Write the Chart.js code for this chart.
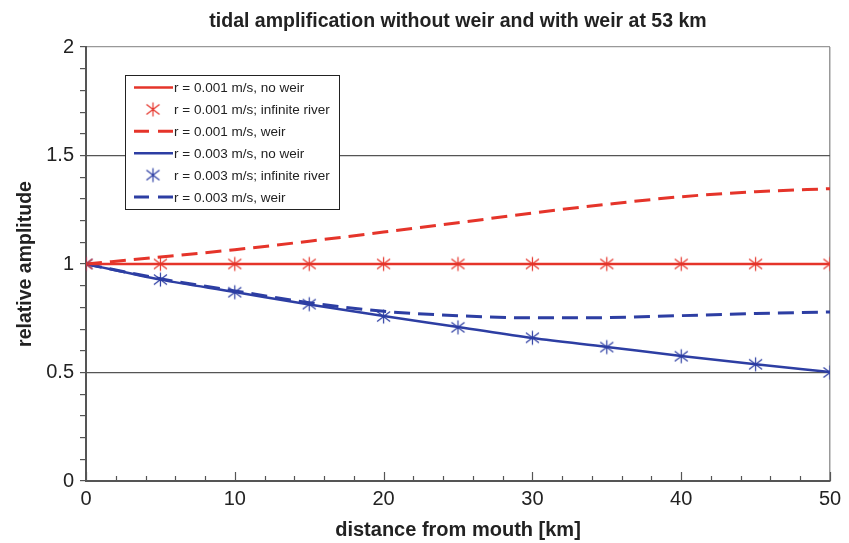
<!DOCTYPE html>
<html>
<head>
<meta charset="utf-8">
<script src="https://cdn.jsdelivr.net/npm/chart.js@4/dist/chart.umd.min.js"></script>
<style>
  html, body { margin: 0; padding: 0; background: #ffffff; }
  #wrap { width: 849px; height: 543px; position: relative; }
</style>
</head>
<body>
<div id="wrap"><canvas id="c" width="849" height="543"></canvas></div>
<script>
// ---- data ----
const distanceKm = [0, 5, 10, 15, 20, 25, 30, 35, 40, 45, 50];
const r001NoWeir = [1.0, 1.0, 1.0, 1.0, 1.0, 1.0, 1.0, 1.0, 1.0, 1.0, 1.0];
const r001Infinite = [1.0, 1.0, 1.0, 1.0, 1.0, 1.0, 1.0, 1.0, 1.0, 1.0, 1.0];
const r001Weir = [1.0, 1.032, 1.066, 1.105, 1.147, 1.19, 1.235, 1.275, 1.31, 1.333, 1.347];
const r003NoWeir = [1.0, 0.928, 0.871, 0.813, 0.76, 0.71, 0.659, 0.618, 0.576, 0.538, 0.502];
const r003Infinite = [1.0, 0.928, 0.87, 0.815, 0.758, 0.708, 0.66, 0.617, 0.575, 0.538, 0.5];
const r003Weir = [1.0, 0.932, 0.876, 0.822, 0.782, 0.762, 0.752, 0.753, 0.762, 0.772, 0.779];
const seriesLabels = [
  'r = 0.001 m/s, no weir',
  'r = 0.001 m/s; infinite river',
  'r = 0.001 m/s, weir',
  'r = 0.003 m/s, no weir',
  'r = 0.003 m/s; infinite river',
  'r = 0.003 m/s, weir'
];
const yMajorLabels = ['0', '0.5', '1', '1.5', '2'];
const xMajorLabels = ['0', '10', '20', '30', '40', '50'];

const RED = 'rgb(229,52,42)';
const BLUE = 'rgb(45,62,163)';
const FONT = '"Liberation Sans", Arial, sans-serif';

function starImage(color) {
  const c = document.createElement('canvas');
  c.width = 17; c.height = 17;
  const g = c.getContext('2d');
  g.strokeStyle = color;
  g.lineWidth = 1.2;
  g.beginPath();
  g.moveTo(8.5, 1.5); g.lineTo(8.5, 15.5);
  g.moveTo(2.0, 3.5); g.lineTo(15.0, 13.5);
  g.moveTo(2.0, 13.5); g.lineTo(15.0, 3.5);
  g.stroke();
  return c;
}
const redStar = starImage(RED);
const blueStar = starImage(BLUE);

const toXY = arr => arr.map((v, i) => ({ x: distanceKm[i], y: v }));

const datasets = [
  { label: seriesLabels[0], data: toXY(r001NoWeir), borderColor: RED, backgroundColor: RED,
    borderWidth: 2.5, pointRadius: 0, cubicInterpolationMode: 'monotone', order: 2 },
  { label: seriesLabels[1], data: toXY(r001Infinite), borderColor: RED, backgroundColor: RED,
    showLine: false, pointStyle: redStar, pointRadius: 8, order: 0 },
  { label: seriesLabels[2], data: toXY(r001Weir), borderColor: RED, backgroundColor: RED,
    borderWidth: 3, borderDash: [16, 8], pointRadius: 0, cubicInterpolationMode: 'monotone', order: 3 },
  { label: seriesLabels[3], data: toXY(r003NoWeir), borderColor: BLUE, backgroundColor: BLUE,
    borderWidth: 2.5, pointRadius: 0, cubicInterpolationMode: 'monotone', order: 2 },
  { label: seriesLabels[4], data: toXY(r003Infinite), borderColor: BLUE, backgroundColor: BLUE,
    showLine: false, pointStyle: blueStar, pointRadius: 8, order: 0 },
  { label: seriesLabels[5], data: toXY(r003Weir), borderColor: BLUE, backgroundColor: BLUE,
    borderWidth: 3, borderDash: [16, 8], pointRadius: 0, cubicInterpolationMode: 'monotone', order: 3 }
];

const isMult = (v, m) => Math.abs(v / m - Math.round(v / m)) < 1e-6;

// inside-pointing x tick marks + legend box
const decorPlugin = {
  id: 'decor',
  afterDraw(chart) {
    const ctx = chart.ctx;
    const xs = chart.scales.x;
    const area = chart.chartArea;
    ctx.save();
    ctx.strokeStyle = '#555';
    ctx.lineWidth = 1.2;
    for (let v = 0; v <= 50 + 1e-9; v += 2) {
      const px = Math.round(xs.getPixelForValue(v)) + 0.5;
      const len = isMult(v, 10) ? 9 : 5;
      ctx.beginPath();
      ctx.moveTo(px, area.bottom);
      ctx.lineTo(px, area.bottom - len);
      ctx.stroke();
    }
    // legend
    const bx = area.left + 39, by = area.top + 28, bw = 214, bh = 134;
    ctx.fillStyle = '#fff';
    ctx.fillRect(bx, by, bw, bh);
    ctx.strokeStyle = '#222';
    ctx.lineWidth = 1;
    ctx.strokeRect(bx + 0.5, by + 0.5, bw, bh);
    ctx.font = '13.5px ' + FONT;
    ctx.textBaseline = 'middle';
    ctx.textAlign = 'left';
    chart.data.datasets.forEach((ds, i) => {
      const y = by + 12.5 + i * 21.9;
      if (ds.showLine === false) {
        const img = ds.pointStyle;
        ctx.drawImage(img, bx + 28 - img.width / 2, y - img.height / 2);
      } else {
        ctx.save();
        ctx.strokeStyle = ds.borderColor;
        ctx.lineWidth = ds.borderWidth;
        ctx.setLineDash(ds.borderDash ? [15, 9] : []);
        ctx.beginPath();
        ctx.moveTo(bx + 9, y);
        ctx.lineTo(bx + 48, y);
        ctx.stroke();
        ctx.restore();
      }
      ctx.fillStyle = '#222';
      ctx.fillText(ds.label, bx + 49, y + 1);
    });
    ctx.restore();
  }
};

new Chart(document.getElementById('c'), {
  type: 'line',
  data: { datasets },
  plugins: [decorPlugin],
  options: {
    responsive: false,
    animation: false,
    layout: { padding: { left: 0, right: 19, top: 0, bottom: 0 } },
    plugins: {
      legend: { display: false },
      tooltip: { enabled: false },
      title: {
        display: true,
        fullSize: false,
        text: 'tidal amplification without weir and with weir at 53 km',
        color: '#222',
        font: { family: FONT, size: 19.5, weight: 'bold' },
        padding: { top: 10, bottom: 13.6 }
      }
    },
    scales: {
      x: {
        type: 'linear',
        min: 0, max: 50,
        afterFit(s) { s.height = 62; },
        border: { display: true, color: '#555', width: 2 },
        grid: {
          drawTicks: false,
          color: c => (c.tick && Math.abs(c.tick.value - 50) < 1e-6) ? '#999' : 'rgba(0,0,0,0)',
          lineWidth: 1.5
        },
        ticks: {
          stepSize: 2,
          autoSkip: false,
          maxRotation: 0,
          padding: 6,
          color: '#222',
          font: { family: FONT, size: 20 },
          callback: v => isMult(v, 10) ? xMajorLabels[Math.round(v / 10)] : ''
        },
        title: {
          display: true,
          text: 'distance from mouth [km]',
          color: '#222',
          font: { family: FONT, size: 20, weight: 'bold' },
          padding: { top: 0, bottom: 1 }
        }
      },
      y: {
        type: 'linear',
        min: 0, max: 2,
        afterFit(s) { s.width = 86; },
        border: { display: true, color: '#555', width: 2 },
        grid: {
          drawTicks: true,
          tickLength: 6,
          tickColor: '#555',
          tickWidth: 1.2,
          color: c => {
            const v = c.tick ? c.tick.value : 0;
            if (Math.abs(v - 2) < 1e-6) return '#999';
            if (isMult(v, 0.5)) return '#555';
            return 'rgba(0,0,0,0)';
          },
          lineWidth: 1.2
        },
        ticks: {
          stepSize: 0.1,
          autoSkip: false,
          padding: 6,
          color: '#222',
          font: { family: FONT, size: 20 },
          callback: v => isMult(v, 0.5) ? yMajorLabels[Math.round(v * 2)] : ''
        },
        title: {
          display: true,
          text: 'relative amplitude',
          color: '#222',
          font: { family: FONT, size: 19.5, weight: 'bold' },
          padding: { top: 14, bottom: 0 }
        }
      }
    }
  }
});
</script>
</body>
</html>
